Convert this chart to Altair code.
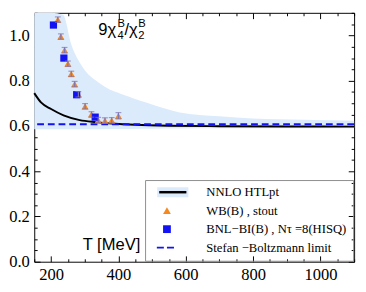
import altair as alt
import pandas as pd

# ---- data ----
nnlo_T = [150, 170, 200, 237, 285, 333, 380, 450, 550, 700, 900, 1100]
nnlo_v = [0.745, 0.704, 0.675, 0.647, 0.626, 0.617, 0.611, 0.605, 0.601, 0.599, 0.598, 0.597]

band_T = [150, 200, 236, 260, 294, 343, 430, 500, 582, 700, 800, 950, 1100]
band_hi = [1.10, 1.10, 1.09, 0.96, 0.86, 0.79, 0.73, 0.695, 0.66, 0.643, 0.633, 0.627, 0.623]
band_lo = [0.585, 0.585, 0.585, 0.585, 0.585, 0.586, 0.587, 0.588, 0.589, 0.59, 0.59, 0.59, 0.59]

wb_T = [220, 229, 240, 250, 260, 270, 281, 301, 320, 340, 360, 380, 400]
wb_v = [1.07, 0.995, 0.935, 0.875, 0.83, 0.785, 0.74, 0.687, 0.651, 0.626, 0.624, 0.625, 0.645]
wb_err = [0.012, 0.012, 0.012, 0.012, 0.012, 0.012, 0.012, 0.012, 0.012, 0.012, 0.012, 0.012, 0.014]

bnl_T = [207, 238, 276, 331]
bnl_v = [1.046, 0.90, 0.738, 0.639]

sb_v = [0.608]

series = ["NNLO HTLpt", "WB(B) , stout", "BNL\u2212BI(B) , N\u03c4 =8(HISQ)", "Stefan \u2212Boltzmann limit"]

x_major = [200, 400, 600, 800, 1000]
x_minor = [v for v in range(150, 1101, 50) if v not in x_major]
y_major = [0.0, 0.2, 0.4, 0.6, 0.8, 1.0]
y_minor = [round(0.05 * i, 2) for i in range(0, 23) if round(0.05 * i, 2) not in y_major]

# ---- styles ----
BAND = "#dcebfb"
ORANGE = "#f5891f"
BLUE = "#1212f2"
ERR = "#7d74b3"
LINE_PATH = "M-2,-0.32H5V0.32H-2Z"
BAND_PATH = "M-2.5,-1.3H5.5V1.3H-2.5Z M-2,-0.32V0.32H5V-0.32Z"
DASH_PATH = "M-2.6,-0.25H-0.8V0.25H-2.6Z M0,-0.25H1.8V0.25H0Z"

X = alt.Scale(domain=[150, 1100], nice=False, zero=False)
Y = alt.Scale(domain=[0, 1.1], nice=False, zero=False)

TICK_FONT = "Liberation Serif"


def xax(orient, major):
    ts = 6 if major else 3
    return alt.Axis(orient=orient, values=x_major if major else x_minor, tickSize=ts, offset=-ts,
                    domain=False, grid=False, labels=(major and orient == "bottom"), title=None,
                    tickColor="black", tickWidth=1, labelFont=TICK_FONT, labelFontSize=17,
                    labelColor="black", labelPadding=5, format="d")


def yax(orient, major):
    ts = 6 if major else 3
    return alt.Axis(orient=orient, values=y_major if major else y_minor, tickSize=ts, offset=-ts,
                    domain=False, grid=False, labels=(major and orient == "left"), title=None,
                    tickColor="black", tickWidth=1, labelFont=TICK_FONT, labelFontSize=17,
                    labelColor="black", labelPadding=5, format=".1f")


band_df = pd.DataFrame({"T": band_T, "lo": band_lo, "hi": band_hi, "bandname": series[0]})
nnlo_df = pd.DataFrame({"T": nnlo_T, "v": nnlo_v})
wb_df = pd.DataFrame({"T": wb_T, "v": wb_v, "e": wb_err})
wb_df["lo"] = wb_df["v"] - wb_df["e"]
wb_df["hi"] = wb_df["v"] + wb_df["e"]
pts_df = pd.concat([
    pd.DataFrame({"T": wb_T, "v": wb_v, "series": series[1]}),
    pd.DataFrame({"T": bnl_T, "v": bnl_v, "series": series[2]}),
])
sb_df = pd.DataFrame({"v": sb_v})

LX, LY = 114, 172
common_leg = dict(orient="none", legendX=LX, legendY=LY, direction="vertical", title=None,
                  padding=6, rowPadding=5, symbolSize=64, symbolOffset=10, labelOffset=34,
                  labelFont="Liberation Serif", labelFontSize=13, symbolStrokeWidth=0, symbolOpacity=1)

legend = alt.Legend(strokeColor="#8c8c8c", labelColor="black", **common_leg)
band_legend = alt.Legend(labelOpacity=0, symbolType=BAND_PATH, symbolFillColor=BAND, **common_leg)

band = alt.Chart(band_df).mark_area(color=BAND, interpolate="monotone").encode(
    x=alt.X("T:Q", scale=X, axis=xax("bottom", True)),
    y=alt.Y("lo:Q", scale=Y, axis=yax("left", True)),
    y2="hi:Q",
    opacity=alt.Opacity("bandname:N", scale=alt.Scale(domain=[series[0]], range=[1]), legend=band_legend),
)

nnlo = alt.Chart(nnlo_df).mark_line(color="black", strokeWidth=2, interpolate="monotone").encode(
    x=alt.X("T:Q", scale=X, axis=xax("bottom", False)),
    y=alt.Y("v:Q", scale=Y, axis=yax("left", False)),
)

sb = alt.Chart(sb_df).mark_rule(color=BLUE, strokeWidth=2, strokeDash=[7, 4]).encode(
    y=alt.Y("v:Q", scale=Y, axis=None),
)

pts = alt.Chart(pts_df).mark_point(filled=True, opacity=1, size=55).encode(
    x=alt.X("T:Q", scale=X, axis=xax("top", False)),
    y=alt.Y("v:Q", scale=Y, axis=yax("right", False)),
    shape=alt.Shape("series:N", scale=alt.Scale(domain=series, range=[LINE_PATH, "triangle-up", "square", DASH_PATH]), legend=legend),
    color=alt.Color("series:N", scale=alt.Scale(domain=series, range=["black", ORANGE, BLUE, BLUE]), legend=legend),
)

err = alt.Chart(wb_df).mark_rule(color=ERR, strokeWidth=1.2).encode(
    x=alt.X("T:Q", scale=X, axis=xax("top", True)),
    y=alt.Y("lo:Q", scale=Y, axis=yax("right", True)),
    y2="hi:Q",
)
cap_lo = alt.Chart(wb_df).mark_tick(color=ERR, orient="horizontal", size=6, thickness=1.2).encode(
    x=alt.X("T:Q", scale=X, axis=None), y=alt.Y("lo:Q", scale=Y, axis=None))
cap_hi = alt.Chart(wb_df).mark_tick(color=ERR, orient="horizontal", size=6, thickness=1.2).encode(
    x=alt.X("T:Q", scale=X, axis=None), y=alt.Y("hi:Q", scale=Y, axis=None))


def txt(s, T, v, fs):
    return alt.Chart().mark_text(text=s, font="Liberation Sans", fontSize=fs, align="left",
                                 baseline="alphabetic", color="black").encode(
        x=alt.X(datum=T, scale=X, axis=None), y=alt.Y(datum=v, scale=Y, axis=None))


ann = [
    txt("9\u03c7", 340, 1.0, 17),
    txt("4", 397, 0.983, 11.5),
    txt("B", 397, 1.038, 11.5),
    txt("/\u03c7", 418, 1.0, 17),
    txt("2", 459, 0.983, 11.5),
    txt("B", 459, 1.038, 11.5),
    txt("T [MeV]", 294, 0.05, 17),
]

chart = alt.layer(band, nnlo, sb, pts, err, cap_lo, cap_hi, *ann).resolve_axis(
    x="independent", y="independent"
).properties(width=329, height=256, padding={"left": 0, "top": 0, "right": 0, "bottom": 0}).configure_view(
    stroke="black", strokeWidth=1
)

chart.save("out.html", embed_options={"renderer": "svg", "actions": False})
